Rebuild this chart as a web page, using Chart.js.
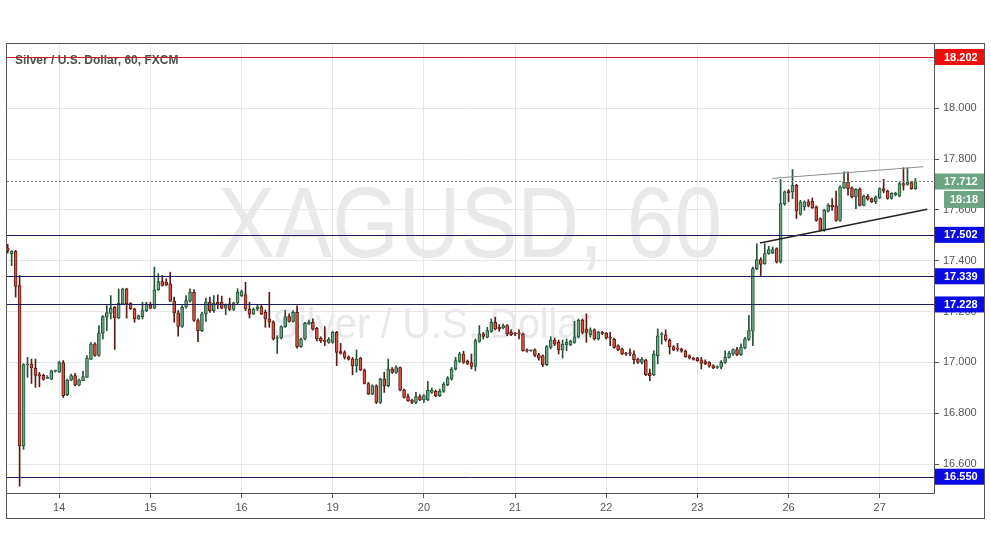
<!DOCTYPE html>
<html>
<head>
<meta charset="utf-8">
<title>XAGUSD, 60</title>
<script src="https://cdn.jsdelivr.net/npm/chart.js@4.4.1/dist/chart.umd.min.js"></script>
<style>
  html, body { margin: 0; padding: 0; background: #fff; }
  #wrap { width: 991px; height: 556px; }
</style>
</head>
<body>
<div id="wrap"><canvas id="chart" width="991" height="556"></canvas></div>
<script>
// hourly candles, 23 per trading day
const opens = [
  17.450, 17.428, 17.437, 17.302, 16.671, 16.990, 16.993, 16.978, 16.952, 16.949,
  16.937, 16.934, 16.965, 16.962, 16.999, 16.873, 16.930, 16.948, 16.910, 16.928,
  16.941, 17.012, 17.073, 17.027, 17.115, 17.178, 17.193, 17.217, 17.175, 17.230,
  17.290, 17.233, 17.211, 17.171, 17.180, 17.204, 17.226, 17.213, 17.286, 17.318,
  17.316, 17.309, 17.241, 17.195, 17.142, 17.217, 17.241, 17.276, 17.165, 17.125,
  17.191, 17.237, 17.204, 17.237, 17.237, 17.213, 17.230, 17.208, 17.234, 17.263,
  17.267, 17.210, 17.190, 17.210, 17.219, 17.197, 17.171, 17.160, 17.094, 17.096,
  17.141, 17.180, 17.161, 17.197, 17.062, 17.092, 17.151, 17.158, 17.134, 17.096,
  17.085, 17.079, 17.079, 17.118, 17.043, 17.039, 17.022, 17.013, 16.987, 17.017,
  16.970, 16.917, 16.875, 16.908, 16.842, 16.934, 16.908, 16.974, 16.961, 16.980,
  16.891, 16.865, 16.852, 16.842, 16.865, 16.852, 16.852, 16.882, 16.886, 16.869,
  16.886, 16.912, 16.934, 16.974, 17.004, 17.033, 17.004, 16.999, 16.984, 17.083,
  17.112, 17.099, 17.122, 17.158, 17.138, 17.136, 17.145, 17.118, 17.112, 17.113,
  17.112, 17.049, 17.046, 17.049, 17.030, 17.026, 16.991, 17.059, 17.088, 17.079,
  17.049, 17.069, 17.069, 17.079, 17.099, 17.167, 17.131, 17.109, 17.128, 17.092,
  17.116, 17.115, 17.099, 17.092, 17.066, 17.053, 17.033, 17.036, 17.033, 17.013,
  17.000, 17.009, 16.957, 16.952, 17.026, 17.108, 17.108, 17.088, 17.062, 17.053,
  17.053, 17.044, 17.026, 17.017, 17.017, 17.010, 17.003, 17.000, 16.987, 16.980,
  16.981, 17.000, 17.020, 17.033, 17.050, 17.030, 17.057, 17.090, 17.123, 17.369,
  17.405, 17.388, 17.428, 17.430, 17.448, 17.395, 17.625, 17.675, 17.671, 17.697,
  17.583, 17.612, 17.632, 17.634, 17.612, 17.566, 17.520, 17.595, 17.619, 17.616,
  17.559, 17.687, 17.710, 17.687, 17.651, 17.681, 17.618, 17.655, 17.645, 17.632,
  17.647, 17.684, 17.674, 17.645, 17.660, 17.655, 17.704, 17.700, 17.708, 17.684
];
const highs = [
  17.465, 17.440, 17.440, 17.342, 16.995, 17.020, 17.013, 17.013, 16.961, 16.954,
  16.948, 16.970, 16.970, 17.004, 17.007, 16.934, 16.954, 16.957, 16.934, 16.965,
  17.027, 17.078, 17.078, 17.145, 17.184, 17.224, 17.263, 17.220, 17.289, 17.292,
  17.292, 17.235, 17.213, 17.186, 17.237, 17.237, 17.237, 17.375, 17.349, 17.342,
  17.329, 17.355, 17.257, 17.204, 17.224, 17.263, 17.290, 17.287, 17.171, 17.197,
  17.253, 17.257, 17.263, 17.266, 17.261, 17.230, 17.253, 17.237, 17.290, 17.285,
  17.315, 17.237, 17.214, 17.227, 17.227, 17.206, 17.276, 17.164, 17.105, 17.144,
  17.204, 17.191, 17.204, 17.223, 17.096, 17.158, 17.167, 17.171, 17.138, 17.101,
  17.141, 17.098, 17.122, 17.122, 17.075, 17.046, 17.026, 17.020, 17.049, 17.020,
  16.974, 16.921, 16.912, 16.912, 16.938, 16.961, 17.013, 16.980, 16.987, 16.983,
  16.895, 16.875, 16.856, 16.882, 16.873, 16.873, 16.925, 16.899, 16.891, 16.895,
  16.921, 16.944, 16.980, 17.020, 17.040, 17.044, 17.009, 17.033, 17.092, 17.145,
  17.118, 17.138, 17.171, 17.178, 17.149, 17.151, 17.149, 17.128, 17.118, 17.128,
  17.115, 17.053, 17.049, 17.053, 17.036, 17.030, 17.066, 17.101, 17.096, 17.088,
  17.088, 17.092, 17.088, 17.162, 17.171, 17.171, 17.191, 17.136, 17.132, 17.122,
  17.122, 17.118, 17.118, 17.096, 17.069, 17.056, 17.040, 17.053, 17.046, 17.017,
  17.020, 17.013, 16.974, 17.046, 17.132, 17.118, 17.128, 17.092, 17.066, 17.075,
  17.056, 17.049, 17.030, 17.020, 17.020, 17.020, 17.010, 17.003, 16.991, 16.987,
  17.007, 17.046, 17.044, 17.053, 17.059, 17.073, 17.099, 17.185, 17.375, 17.467,
  17.412, 17.467, 17.457, 17.454, 17.451, 17.720, 17.675, 17.680, 17.759, 17.701,
  17.638, 17.636, 17.641, 17.647, 17.616, 17.569, 17.603, 17.625, 17.645, 17.674,
  17.695, 17.750, 17.750, 17.691, 17.684, 17.687, 17.658, 17.661, 17.647, 17.655,
  17.687, 17.721, 17.678, 17.668, 17.670, 17.708, 17.766, 17.766, 17.713, 17.724
];
const lows = [
  17.430, 17.381, 17.257, 16.513, 16.658, 16.941, 16.917, 16.902, 16.904, 16.930,
  16.936, 16.932, 16.962, 16.960, 16.862, 16.869, 16.928, 16.907, 16.907, 16.928,
  16.941, 17.012, 17.024, 17.024, 17.092, 17.125, 17.171, 17.051, 17.172, 17.230,
  17.174, 17.208, 17.158, 17.169, 17.171, 17.200, 17.211, 17.211, 17.283, 17.300,
  17.302, 17.240, 17.158, 17.103, 17.138, 17.213, 17.237, 17.161, 17.082, 17.121,
  17.161, 17.197, 17.197, 17.211, 17.211, 17.187, 17.204, 17.204, 17.230, 17.259,
  17.204, 17.175, 17.188, 17.204, 17.188, 17.138, 17.138, 17.088, 17.035, 17.092,
  17.138, 17.158, 17.158, 17.056, 17.059, 17.088, 17.148, 17.127, 17.085, 17.079,
  17.066, 17.075, 17.075, 16.987, 17.033, 17.013, 17.009, 16.951, 16.961, 16.967,
  16.915, 16.873, 16.873, 16.838, 16.838, 16.882, 16.904, 16.957, 16.957, 16.888,
  16.859, 16.846, 16.838, 16.838, 16.849, 16.842, 16.849, 16.878, 16.865, 16.865,
  16.882, 16.908, 16.930, 16.970, 17.000, 16.996, 16.991, 16.974, 16.967, 17.079,
  17.092, 17.096, 17.118, 17.128, 17.122, 17.132, 17.105, 17.105, 17.105, 17.092,
  17.044, 17.040, 17.043, 17.023, 17.009, 16.983, 16.987, 17.053, 17.066, 17.033,
  17.017, 17.046, 17.066, 17.075, 17.096, 17.112, 17.079, 17.099, 17.088, 17.088,
  17.109, 17.092, 17.066, 17.056, 17.046, 17.030, 17.027, 17.026, 16.994, 16.996,
  16.994, 16.948, 16.928, 16.948, 16.994, 17.072, 17.083, 17.033, 17.046, 17.044,
  17.040, 17.020, 17.013, 17.009, 17.004, 16.974, 16.991, 16.981, 16.975, 16.976,
  16.974, 16.996, 17.017, 17.027, 17.026, 17.027, 17.053, 17.086, 17.066, 17.365,
  17.342, 17.386, 17.425, 17.428, 17.391, 17.391, 17.618, 17.632, 17.645, 17.566,
  17.579, 17.599, 17.612, 17.606, 17.555, 17.516, 17.516, 17.592, 17.599, 17.555,
  17.555, 17.684, 17.658, 17.647, 17.605, 17.616, 17.616, 17.638, 17.629, 17.625,
  17.645, 17.668, 17.642, 17.642, 17.655, 17.651, 17.678, 17.697, 17.681, 17.681
];
const closes = [
  17.440, 17.437, 17.299, 16.671, 16.991, 16.993, 16.978, 16.949, 16.946, 16.933,
  16.938, 16.967, 16.966, 16.999, 16.869, 16.930, 16.948, 16.910, 16.930, 16.944,
  17.017, 17.073, 17.027, 17.115, 17.180, 17.196, 17.213, 17.175, 17.233, 17.289,
  17.230, 17.211, 17.171, 17.184, 17.204, 17.230, 17.213, 17.286, 17.318, 17.303,
  17.305, 17.241, 17.195, 17.142, 17.217, 17.243, 17.276, 17.165, 17.125, 17.191,
  17.237, 17.204, 17.233, 17.230, 17.213, 17.226, 17.208, 17.234, 17.276, 17.279,
  17.210, 17.190, 17.210, 17.219, 17.190, 17.171, 17.158, 17.092, 17.096, 17.141,
  17.180, 17.161, 17.197, 17.062, 17.092, 17.154, 17.158, 17.131, 17.092, 17.085,
  17.083, 17.092, 17.118, 17.039, 17.035, 17.020, 17.013, 16.987, 17.013, 16.970,
  16.917, 16.875, 16.908, 16.842, 16.934, 16.908, 16.974, 16.961, 16.980, 16.891,
  16.862, 16.849, 16.842, 16.865, 16.852, 16.869, 16.891, 16.891, 16.869, 16.886,
  16.915, 16.938, 16.974, 17.007, 17.033, 17.000, 16.996, 16.984, 17.086, 17.112,
  17.102, 17.125, 17.158, 17.132, 17.132, 17.145, 17.112, 17.109, 17.111, 17.112,
  17.046, 17.044, 17.047, 17.027, 17.017, 16.991, 17.062, 17.088, 17.072, 17.049,
  17.072, 17.079, 17.083, 17.101, 17.167, 17.118, 17.118, 17.128, 17.092, 17.118,
  17.114, 17.096, 17.095, 17.059, 17.049, 17.033, 17.032, 17.035, 17.011, 17.000,
  17.013, 16.952, 16.948, 17.033, 17.105, 17.109, 17.088, 17.062, 17.049, 17.052,
  17.044, 17.023, 17.017, 17.012, 17.007, 16.996, 16.994, 16.985, 16.978, 16.981,
  17.000, 17.020, 17.037, 17.050, 17.030, 17.060, 17.093, 17.125, 17.369, 17.405,
  17.386, 17.428, 17.444, 17.444, 17.395, 17.625, 17.671, 17.667, 17.697, 17.596,
  17.632, 17.632, 17.618, 17.608, 17.559, 17.520, 17.599, 17.619, 17.612, 17.559,
  17.691, 17.710, 17.684, 17.651, 17.681, 17.618, 17.655, 17.642, 17.632, 17.651,
  17.684, 17.674, 17.645, 17.665, 17.665, 17.704, 17.697, 17.710, 17.684, 17.712
];

// first candle of each day and its label
const dayTickIndex = [13, 36, 59, 82, 105, 128, 151, 174, 197, 220];
const dayLabels = ["14", "15", "16", "19", "20", "21", "22", "23", "26", "27"];
const priceTicks = [16.6, 16.8, 17.0, 17.2, 17.4, 17.6, 17.8, 18.0];

const resistanceLevel = 18.202;
const supportLevels = [17.502, 17.339, 17.228, 16.550];
const lastPrice = 17.712;
const countdown = "18:18";

// wedge drawn over the last days (candle index, price)
const upperWedge = [{ x: 192.9, y: 17.724 }, { x: 231.0, y: 17.770 }];
const lowerWedge = [{ x: 189.8, y: 17.470 }, { x: 232.0, y: 17.603 }];

const UP = "#6ba583";
const UP_EDGE = "#225437";
const DOWN = "#d75442";
const DOWN_EDGE = "#5b1a13";
const FONT = "'Liberation Sans', Arial, sans-serif";

function isUp(i) {
  return closes[i] >= opens[i];
}

function drawFitted(ctx, text, size, left, right, baseline) {
  ctx.font = `${size}px ${FONT}`;
  const width = ctx.measureText(text).width;
  ctx.save();
  ctx.translate(left, baseline);
  ctx.scale((right - left) / width, 1);
  ctx.textAlign = "left";
  ctx.textBaseline = "alphabetic";
  ctx.fillText(text, 0, 0);
  ctx.restore();
}

const backdropPlugin = {
  id: "backdrop",
  beforeDatasetsDraw(chart) {
    const { ctx, chartArea } = chart;
    ctx.save();
    ctx.beginPath();
    ctx.rect(chartArea.left, chartArea.top, chartArea.right - chartArea.left, chartArea.bottom - chartArea.top);
    ctx.clip();
    ctx.fillStyle = "#e9e9eb";
    drawFitted(ctx, "XAGUSD, 60", 100, 218, 722, 257);
    drawFitted(ctx, "Silver / U.S. Dollar", 42, 272, 592, 338);
    ctx.font = `bold 12px ${FONT}`;
    ctx.fillStyle = "#4f4f4f";
    ctx.textAlign = "left";
    ctx.textBaseline = "middle";
    ctx.fillText("Silver / U.S. Dollar, 60, FXCM", chartArea.left + 8, 61);
    ctx.restore();
  },
};

const levelsPlugin = {
  id: "levels",
  afterDatasetsDraw(chart) {
    const { ctx, chartArea, scales } = chart;
    const hline = (value, color, dash) => {
      const py = Math.round(scales.y.getPixelForValue(value)) + 0.5;
      ctx.strokeStyle = color;
      ctx.setLineDash(dash || []);
      ctx.beginPath();
      ctx.moveTo(chartArea.left, py);
      ctx.lineTo(chartArea.right, py);
      ctx.stroke();
    };
    ctx.save();
    ctx.lineWidth = 1;
    hline(lastPrice, "#7a7a7a", [2, 2]);
    hline(resistanceLevel, "#d0191f");
    supportLevels.forEach((level) => hline(level, "#1c1c66"));
    ctx.restore();
  },
  afterDraw(chart) {
    const { ctx, chartArea, scales } = chart;
    const boxLeft = chartArea.right + 1;
    const boxRight = 984;
    const tag = (value, bg) => {
      const py = scales.y.getPixelForValue(value);
      ctx.fillStyle = bg;
      ctx.fillRect(boxLeft, py - 8, boxRight - boxLeft, 16);
      ctx.fillStyle = "#fff";
      ctx.textAlign = "left";
      ctx.fillText(value.toFixed(3), 944, py + 0.5);
      return py;
    };
    ctx.save();
    ctx.font = `bold 11px ${FONT}`;
    ctx.textBaseline = "middle";
    tag(resistanceLevel, "#f20d0d");
    supportLevels.forEach((level) => tag(level, "#0a0ae6"));
    const py = tag(lastPrice, UP);
    ctx.fillStyle = UP;
    ctx.fillRect(944, py + 9.5, boxRight - 944, 17);
    ctx.fillStyle = "#fff";
    ctx.textAlign = "center";
    ctx.fillText(countdown, 964, py + 18.5);

    ctx.strokeStyle = "#555";
    ctx.lineWidth = 1;
    ctx.strokeRect(chartArea.left - 0.5, chartArea.top + 0.5, boxRight - chartArea.left + 1, 475);
    ctx.restore();
  },
};

const wickData = opens.map((_, i) => ({ x: i, y: [lows[i], highs[i]] }));
const bodyData = opens.map((open, i) => ({ x: i, y: [open, closes[i]] }));

new Chart(document.getElementById("chart"), {
  type: "bar",
  data: {
    datasets: [
      {
        label: "Bodies",
        data: bodyData,
        grouped: false,
        barThickness: 3,
        minBarLength: 1,
        borderWidth: 1,
        borderSkipped: false,
        backgroundColor: (ctx) => (isUp(ctx.dataIndex) ? UP : DOWN),
        borderColor: (ctx) => (isUp(ctx.dataIndex) ? UP_EDGE : DOWN_EDGE),
        order: 1,
      },
      {
        label: "Wicks",
        data: wickData,
        grouped: false,
        barThickness: 1,
        borderWidth: 0,
        backgroundColor: (ctx) => (isUp(ctx.dataIndex) ? UP_EDGE : DOWN_EDGE),
        order: 2,
      },
      {
        type: "line",
        label: "Upper wedge",
        data: upperWedge,
        borderColor: "#8c8c8c",
        borderWidth: 1,
        pointRadius: 0,
        order: 0,
      },
      {
        type: "line",
        label: "Lower wedge",
        data: lowerWedge,
        borderColor: "#222",
        borderWidth: 1.5,
        pointRadius: 0,
        order: 0,
      },
    ],
  },
  options: {
    responsive: false,
    animation: false,
    devicePixelRatio: 1,
    layout: { padding: { left: 7, top: 43, right: 7, bottom: 37 } },
    plugins: { legend: { display: false }, tooltip: { enabled: false } },
    scales: {
      x: {
        type: "linear",
        min: -0.18,
        max: 233.7,
        offset: false,
        afterFit: (scale) => { scale.height = 26; },
        afterBuildTicks: (scale) => { scale.ticks = dayTickIndex.map((v) => ({ value: v })); },
        grid: { color: "#e6e6e6", offset: false, tickLength: 5, tickColor: "#555" },
        border: { color: "#555", width: 1 },
        ticks: {
          autoSkip: false,
          maxRotation: 0,
          padding: 3,
          color: "#555",
          font: { family: FONT, size: 11 },
          callback: (value) => dayLabels[dayTickIndex.indexOf(value)],
        },
      },
      y: {
        type: "linear",
        position: "right",
        min: 16.486,
        max: 18.257,
        afterFit: (scale) => { scale.width = 50; },
        afterBuildTicks: (scale) => { scale.ticks = priceTicks.map((v) => ({ value: v })); },
        grid: { color: "#e6e6e6", tickLength: 5, tickColor: "#555" },
        border: { color: "#555", width: 1 },
        ticks: {
          padding: 4,
          color: "#555",
          font: { family: FONT, size: 11 },
          callback: (value) => Number(value).toFixed(3),
        },
      },
    },
  },
  plugins: [backdropPlugin, levelsPlugin],
});
</script>
</body>
</html>
